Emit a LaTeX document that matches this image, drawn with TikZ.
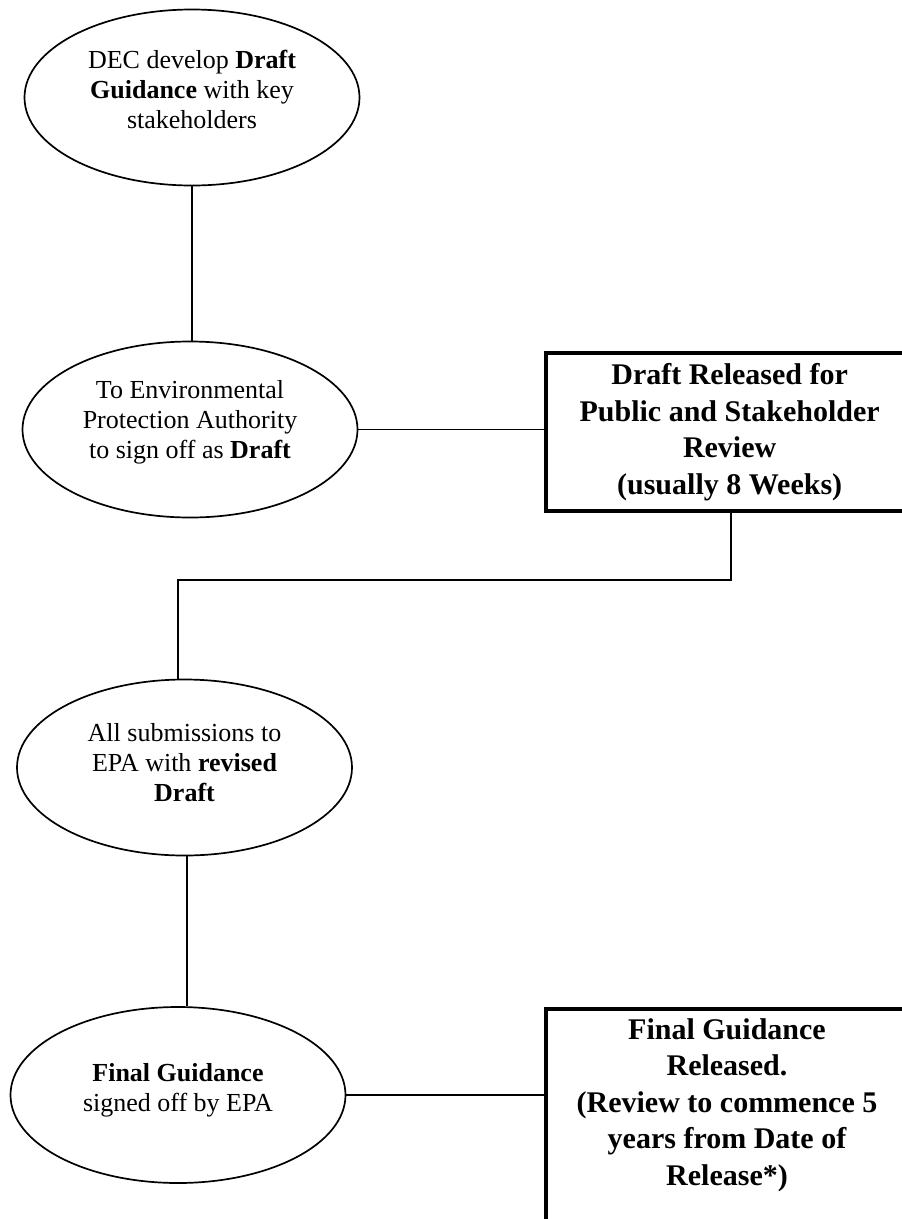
\documentclass[tikz,border=0pt]{standalone}
\usepackage{fontspec}
\setmainfont{Liberation Serif}
\usetikzlibrary{shapes.geometric}
\begin{document}
\begin{tikzpicture}[x=1pt,y=-1pt,
  oval/.style={draw=black,line width=1.7pt,ellipse,inner sep=0pt,
    minimum width=335pt,minimum height=176pt},
  ovaltext/.style={align=center,font=\fontsize{26}{30}\selectfont},
  bigbox/.style={draw=black,line width=4.3pt,rectangle,inner sep=0pt,anchor=north west},
  boxtext/.style={align=center,font=\fontsize{30}{36.6}\selectfont\bfseries},
  link/.style={draw=black,line width=1.8pt}]
\useasboundingbox (0,0) rectangle (902,1219);
\clip (0,0) rectangle (902,1219);
\fill[white] (0,0) rectangle (902,1219);

\node[oval] (e1) at (192,97.5) {};
\node[ovaltext] (l1) at (192,89) {DEC develop \textbf{Draft}\\\textbf{Guidance} with key\\stakeholders};
\node[oval] (e2) at (190,429.5) {};
\node[ovaltext] (l2) at (190,422) {To Environmental\\Protection Authority\\to sign off as \textbf{Draft}};
\node[oval] (e3) at (184.5,767.5) {};
\node[ovaltext] (l3) at (184.5,763) {All submissions to\\EPA with \textbf{revised}\\\textbf{Draft}};
\node[oval] (e4) at (178,1095) {};
\node[ovaltext] (l4) at (178,1090) {\textbf{Final Guidance}\\signed off by EPA};

\node[bigbox,minimum width=368pt,minimum height=158pt] (b1) at (543.5,351) {};
\node[boxtext] (t1) at (b1.center) {Draft Released for\\Public and Stakeholder\\Review\\(usually 8 Weeks)};

\node[bigbox,minimum width=368pt,minimum height=240pt] (b2) at (543.5,1007) {};
\node[boxtext] (t2) at (727,1105) {Final Guidance\\Released.\\(Review to commence 5\\years from Date of\\Release*)};

\coordinate (k1) at (731,580);
\coordinate (k2) at (178,580);
\coordinate (k3) at (187,0);

\draw[link] (e1.south) -- (e1.south |- e2.north);
\draw[link] (e2.east) -- (e2.east -| b1.west);
\draw[link] (b1.south -| k1) -- (k1) -- (k2) -- (k2 |- e3.north);
\draw[link] (k3 |- e3.south) -- (k3 |- e4.north);
\draw[link] (e4.east) -- (e4.east -| b2.west);
\end{tikzpicture}
\end{document}
